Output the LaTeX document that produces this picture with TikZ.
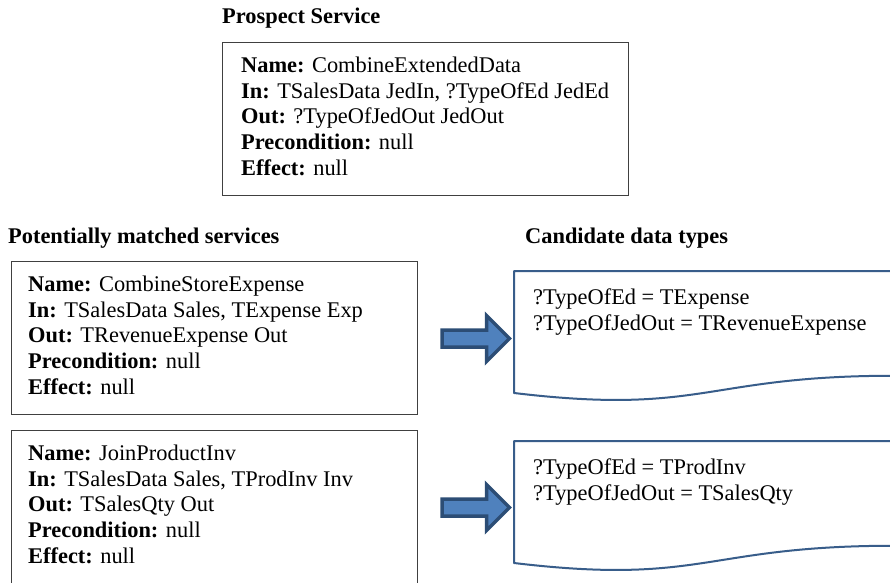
\documentclass[tikz,border=0pt]{standalone}
\usepackage{fontspec}
\setmainfont{Liberation Serif}
\definecolor{docblue}{HTML}{385D8A}
\definecolor{arrowfill}{HTML}{4F81BD}
\definecolor{arrowedge}{HTML}{2C4D75}
\newcommand\bodyfont{\fontsize{22.4}{25.8}\selectfont}
\tikzset{
  svcbox/.style={draw=black!75, line width=1.3pt, anchor=north west, inner sep=0pt,
                 minimum width=406pt, minimum height=153pt},
  svctext/.style={anchor=north west, align=left, inner sep=0pt, font=\bodyfont},
  heading/.style={anchor=base west, inner sep=0pt, font=\bodyfont\bfseries},
  docshape/.style={draw=docblue, line width=2pt, fill=white, line join=round},
  fatarrow/.style={draw=arrowedge, fill=arrowfill, line width=3.5pt, line join=miter},
}
% Flowchart "document" outline: top-left corner, width, height
\newcommand\docoutline[4]{%
  \draw[docshape] (#1,#2) -- ++(#3,0) -- ++(0,0.802*#4)
    .. controls ++(-0.5*#3,0) and ++(0.5*#3,0.1735*#4) .. ++(-#3,0.132*#4) -- cycle;}
% Block arrow: left end x, centre y, tip x
\newcommand\blockarrow[3]{%
  \draw[fatarrow] (#1,#2-8.5) -- (#3-23,#2-8.5) -- (#3-23,#2-23) -- (#3,#2)
    -- (#3-23,#2+23) -- (#3-23,#2+8.5) -- (#1,#2+8.5) -- cycle;}
\begin{document}
\begin{tikzpicture}[x=1pt,y=-1pt]
\clip (0,0) rectangle (890,582);
\fill[white] (0,0) rectangle (890,582);

% Prospect service
\node[heading] (prospecthead) at (222,23) {Prospect Service};
\node[svcbox] (prospect) at (222,42) {};
\node[svctext] (prospecttxt) at (241,56.6) {%
  \textbf{Name:} CombineExtendedData\\
  \textbf{In:} TSalesData JedIn, ?TypeOfEd JedEd\\
  \textbf{Out:} ?TypeOfJedOut JedOut\\
  \textbf{Precondition:} null\\
  \textbf{Effect:} null};

% Potentially matched services
\node[heading] (matchedhead) at (8,243) {Potentially matched services};
\node[svcbox] (svcA) at (11,261) {};
\node[svctext] (svcAtxt) at (28,275.6) {%
  \textbf{Name:} CombineStoreExpense\\
  \textbf{In:} TSalesData Sales, TExpense Exp\\
  \textbf{Out:} TRevenueExpense Out\\
  \textbf{Precondition:} null\\
  \textbf{Effect:} null};

\node[svcbox, minimum height=156pt] (svcB) at (11,430) {};
\node[svctext] (svcBtxt) at (28,444.6) {%
  \textbf{Name:} JoinProductInv\\
  \textbf{In:} TSalesData Sales, TProdInv Inv\\
  \textbf{Out:} TSalesQty Out\\
  \textbf{Precondition:} null\\
  \textbf{Effect:} null};

% Candidate data types
\node[heading] (candhead) at (525,243) {Candidate data types};
\docoutline{514}{271}{380}{130.6}
\node[svctext] (candA) at (533,289) {%
  ?TypeOfEd = TExpense\\
  ?TypeOfJedOut = TRevenueExpense};
\docoutline{514}{441}{380}{130.6}
\node[svctext] (candB) at (533,459) {%
  ?TypeOfEd = TProdInv\\
  ?TypeOfJedOut = TSalesQty};

% Block arrows from services to candidate types
\blockarrow{442}{338.5}{509.5}
\blockarrow{442}{507.5}{509.5}
\end{tikzpicture}
\end{document}
